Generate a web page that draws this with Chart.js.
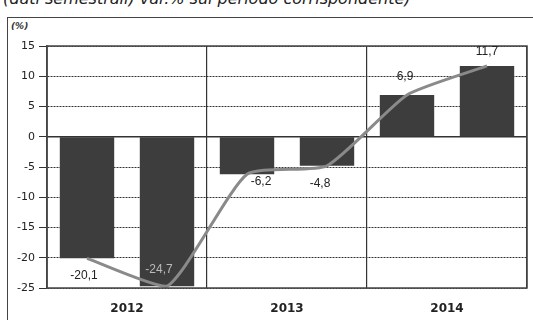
<!DOCTYPE html>
<html>
<head>
<meta charset="utf-8">
<script src="https://cdn.jsdelivr.net/npm/chart.js@4.4.1/dist/chart.umd.min.js"></script>
<style>
  body { margin: 0; background: #fff; overflow: hidden; }
  #wrap { position: relative; width: 533px; height: 320px; }
  #title { position: absolute; left: 3px; top: -11px; font: italic 16px "DejaVu Sans", sans-serif; color: #222; white-space: nowrap; }
  #box { position: absolute; left: 7px; top: 17px; width: 600px; height: 400px; border: 1px solid #444; }
  #unit { position: absolute; left: 11px; top: 21px; font: italic bold 9px "DejaVu Sans", sans-serif; color: #333; }
  #chartBox { position: absolute; left: 0; top: 0; width: 533px; height: 320px; }
</style>
</head>
<body>
<div id="wrap">
  <div id="title">(dati semestrali) var.% sul periodo corrispondente)</div>
  <div id="box"></div>
  <div id="unit">(%)</div>
  <div id="chartBox"><canvas id="chart"></canvas></div>
</div>
<script>
// --- data ---
const periods = ["I 2012", "II 2012", "I 2013", "II 2013", "I 2014", "II 2014"];
const years = ["2012", "2013", "2014"];
const values = [-20.1, -24.7, -6.2, -4.8, 6.9, 11.7];
const valueLabels = ["-20,1", "-24,7", "-6,2", "-4,8", "6,9", "11,7"];

// label offsets from the bar end (styling only)
const labelOffsets = [[-3, 17], [-8, -16], [14, 7], [-7, 18], [-2, -18], [0, -14]];
const labelColors = ["#222", "#bbb", "#222", "#222", "#222", "#222"];

document.addEventListener("DOMContentLoaded", function () {
  const zeroAndFrame = {
    id: "zeroAndFrame",
    beforeDatasetsDraw(chart) {
      const ctx = chart.ctx;
      const y0 = chart.scales.y.getPixelForValue(0);
      ctx.save();
      ctx.strokeStyle = "#333";
      ctx.lineWidth = 1.5;
      ctx.beginPath();
      ctx.moveTo(chart.chartArea.left, y0);
      ctx.lineTo(chart.chartArea.right, y0);
      ctx.stroke();
      ctx.restore();
    },
    afterDraw(chart) {
      const a = chart.chartArea;
      const ctx = chart.ctx;
      ctx.save();
      ctx.strokeStyle = "#444";
      ctx.lineWidth = 1.5;
      ctx.strokeRect(a.left, a.top, a.right - a.left, a.bottom - a.top);
      // value labels
      const bars = chart.getDatasetMeta(1).data;
      ctx.font = "12px 'Liberation Sans', Arial, sans-serif";
      ctx.textAlign = "center";
      ctx.textBaseline = "middle";
      bars.forEach((bar, i) => {
        ctx.fillStyle = labelColors[i];
        ctx.fillText(valueLabels[i], bar.x + labelOffsets[i][0], bar.y + labelOffsets[i][1]);
      });
      ctx.restore();
    }
  };

  new Chart(document.getElementById("chart"), {
    data: {
      labels: periods,
      datasets: [
        {
          type: "line",
          data: values,
          borderColor: "#8a8a8a",
          borderWidth: 3,
          tension: 0.18,
          pointRadius: 0,
          order: 0
        },
        {
          type: "bar",
          data: values,
          backgroundColor: "#3d3d3d",
          barPercentage: 0.68,
          categoryPercentage: 1,
          order: 1
        }
      ]
    },
    options: {
      responsive: true,
      maintainAspectRatio: false,
      animation: false,
      layout: { padding: { top: 46, right: 6, left: 0, bottom: 0 } },
      plugins: { legend: { display: false }, tooltip: { enabled: false } },
      scales: {
        x: { display: false },
        x2: {
          type: "category",
          labels: years,
          position: "bottom",
          offset: true,
          grid: { offset: true, color: "#333", lineWidth: 1.2, drawTicks: false },
          border: { display: false },
          ticks: {
            color: "#222",
            padding: 14,
            font: { family: "DejaVu Sans", size: 12, weight: "bold" }
          },
          afterFit(scale) { scale.height = 32; }
        },
        y: {
          min: -25,
          max: 15,
          ticks: {
            stepSize: 5,
            color: "#222",
            padding: 4,
            font: { family: "DejaVu Sans", size: 11 }
          },
          grid: { color: "#333", lineWidth: 1, tickLength: 8 },
          border: { display: true, color: "#444", width: 1.5, dash: [2, 1] },
          afterFit(scale) { scale.width = 47; }
        }
      }
    },
    plugins: [zeroAndFrame]
  });
});
</script>
</body>
</html>
